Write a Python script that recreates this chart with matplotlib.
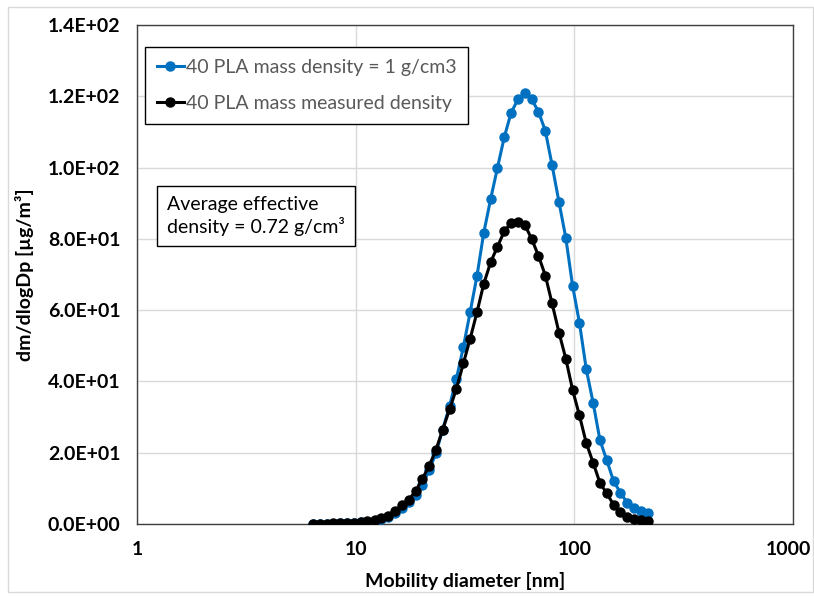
import matplotlib.pyplot as plt
import matplotlib.transforms as mtransforms
from matplotlib.patches import Rectangle

# Размеры частиц (нм), 32 канала на декаду
diam = [6.38, 6.85, 7.37, 7.91, 8.51, 9.14, 9.82, 10.6, 11.3, 12.2,
        13.1, 14.1, 15.1, 16.3, 17.5, 18.8, 20.2, 21.7, 23.3, 25.0,
        26.9, 28.9, 31.1, 33.4, 35.9, 38.5, 41.4, 44.5, 47.8, 51.4,
        55.2, 59.4, 63.8, 68.5, 73.7, 79.1, 85.1, 91.4, 98.2, 105.5,
        113.4, 121.9, 131.0, 140.7, 151.2, 162.5, 174.7, 187.7, 201.7, 216.7]

# dm/dlogDp, плотность = 1 г/см3
mass_rho1 = [0.04, 0.06, 0.08, 0.12, 0.18, 0.25, 0.35, 0.45, 0.65, 0.95,
             1.35, 2.0, 3.1, 4.4, 6.3, 8.2, 11.0, 15.2, 19.9, 26.5,
             33.2, 40.8, 49.7, 59.5, 69.7, 81.6, 91.1, 99.9, 108.5, 115.4,
             119.1, 121.0, 119.2, 115.7, 110.3, 100.7, 90.3, 80.3, 66.8, 56.5,
             43.4, 34.0, 23.5, 17.9, 12.0, 8.8, 5.9, 4.5, 3.6, 3.1]

# dm/dlogDp, измеренная плотность
mass_meas = [0.05, 0.08, 0.1, 0.15, 0.2, 0.3, 0.4, 0.5, 0.8, 1.1,
             1.6, 2.3, 3.6, 5.2, 6.8, 9.2, 12.7, 16.4, 20.8, 26.5,
             32.2, 38.0, 45.1, 52.0, 59.5, 67.3, 73.4, 77.8, 82.1, 84.5,
             84.7, 83.9, 80.0, 75.3, 69.7, 61.9, 53.7, 46.4, 37.6, 30.5,
             22.7, 17.2, 11.5, 8.6, 5.4, 3.5, 2.1, 1.4, 1.1, 0.9]

xticks = [1, 10, 100, 1000]
yticks = [0, 20, 40, 60, 80, 100, 120, 140]
ytick_labels = ["0.0E+00", "2.0E+01", "4.0E+01", "6.0E+01",
                "8.0E+01", "1.0E+02", "1.2E+02", "1.4E+02"]

plt.rcParams['font.family'] = ['Lato', 'DejaVu Sans']

blue = "#0070C0"
W, H = 814, 598
fig = plt.figure(figsize=(W / 100, H / 100), dpi=100)
ax = fig.add_axes([137 / W, 1 - 524 / H, (793 - 137) / W, (524 - 25) / H])

ax.plot(diam, mass_rho1, color=blue, lw=2.2, marker='o', ms=6.5,
        label="40 PLA mass density = 1 g/cm3", zorder=3)
ax.plot(diam, mass_meas, color='black', lw=2.2, marker='o', ms=6.5,
        label="40 PLA mass measured density", zorder=4)

ax.set_xscale('log')
ax.set_xlim(1, 1000)
ax.set_ylim(0, 140)
ax.set_xticks(xticks)
ax.set_xticklabels([str(t) for t in xticks])
ax.minorticks_off()
ax.set_yticks(yticks)
ax.set_yticklabels(ytick_labels)
ax.tick_params(length=0, labelsize=14, pad=12)
for lab in ax.get_xticklabels() + ax.get_yticklabels():
    lab.set_fontweight('bold')
# последнюю подпись чуть левее, чтобы не обрезалась
last = ax.get_xticklabels()[-1]
last.set_transform(last.get_transform() +
                   mtransforms.ScaledTranslation(-5 / 100, 0, fig.dpi_scale_trans))

ax.grid(True, color='#d9d9d9', lw=1)
ax.set_axisbelow(True)
for s in ax.spines.values():
    s.set_color('#404040')
    s.set_linewidth(1)

ax.set_xlabel("Mobility diameter [nm]", fontsize=14, fontweight='bold', labelpad=10)
ax.set_ylabel("dm/dlogDp [µg/m³]", fontsize=14, fontweight='bold', labelpad=10)

leg = ax.legend(loc='upper left', bbox_to_anchor=(145 / W, 1 - 47 / H),
                bbox_transform=fig.transFigure, fontsize=14, frameon=True,
                fancybox=False, framealpha=1, handlelength=1.4, handletextpad=0.1,
                labelspacing=1.0, borderpad=0.6, borderaxespad=0)
leg.get_frame().set_edgecolor('black')
leg.get_frame().set_linewidth(1)
for t in leg.get_texts():
    t.set_color('#595959')

fig.text(167 / W, 1 - 216 / H, "Average effective\ndensity = 0.72 g/cm³",
         fontsize=14, va='center', ha='left', linespacing=1.3,
         bbox=dict(boxstyle='square,pad=0.5', facecolor='white', edgecolor='black', lw=1))

fig.patches.append(Rectangle((8 / W, 6 / H), (W - 9) / W, (H - 13) / H,
                             transform=fig.transFigure, fill=False,
                             edgecolor='#d9d9d9', lw=1))

plt.savefig("out.png", dpi=100)
plt.close()
